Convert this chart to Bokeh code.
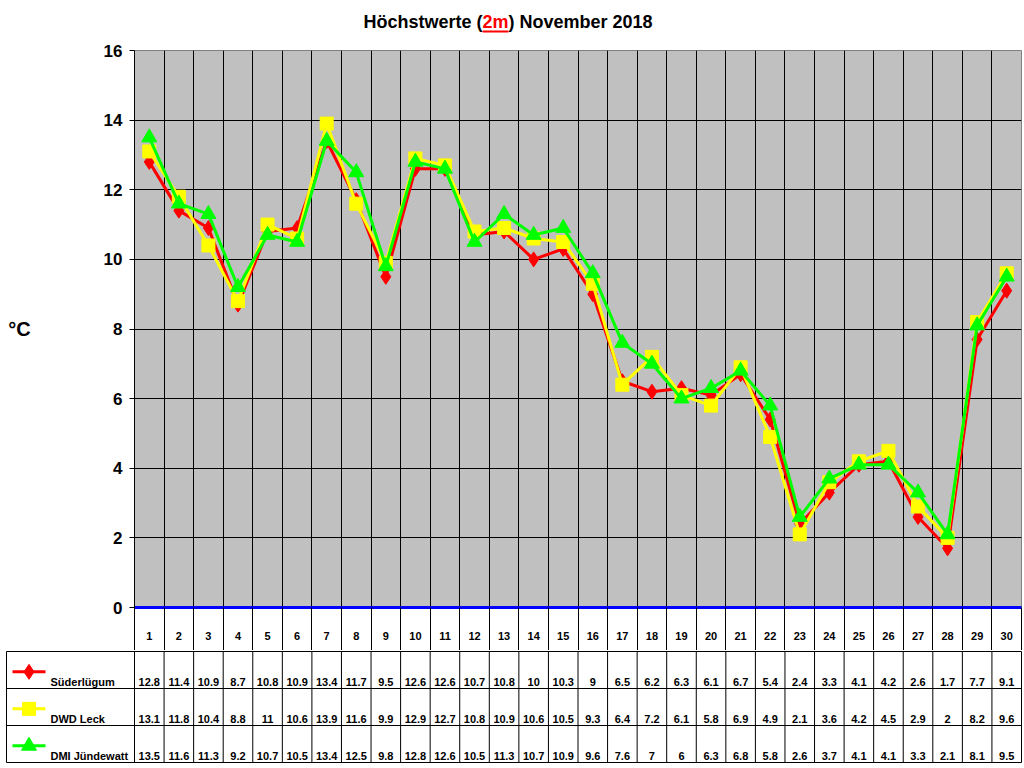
from bokeh.plotting import figure
from bokeh.models import Range1d, FixedTicker, ColumnDataSource
from bokeh.layouts import column
from bokeh.embed import file_html
from bokeh.resources import INLINE
from bokeh.core.properties import value

# ---------------- data ----------------
days = list(range(1, 31))
series_names = ["Süderlügum", "DWD Leck", "DMI Jündewatt"]
suederluegum = [12.8, 11.4, 10.9, 8.7, 10.8, 10.9, 13.4, 11.7, 9.5, 12.6, 12.6, 10.7, 10.8, 10, 10.3,
                9, 6.5, 6.2, 6.3, 6.1, 6.7, 5.4, 2.4, 3.3, 4.1, 4.2, 2.6, 1.7, 7.7, 9.1]
dwd_leck = [13.1, 11.8, 10.4, 8.8, 11, 10.6, 13.9, 11.6, 9.9, 12.9, 12.7, 10.8, 10.9, 10.6, 10.5,
            9.3, 6.4, 7.2, 6.1, 5.8, 6.9, 4.9, 2.1, 3.6, 4.2, 4.5, 2.9, 2, 8.2, 9.6]
dmi_juendewatt = [13.5, 11.6, 11.3, 9.2, 10.7, 10.5, 13.4, 12.5, 9.8, 12.8, 12.6, 10.5, 11.3, 10.7, 10.9,
                  9.6, 7.6, 7, 6, 6.3, 6.8, 5.8, 2.6, 3.7, 4.1, 4.1, 3.3, 2.1, 8.1, 9.5]
y_ticks = [0, 2, 4, 6, 8, 10, 12, 14, 16]
title_parts = ["Höchstwerte (", "2m", ") November 2018"]
title_colors = ["black", "#FF0000", "black"]
y_label = "°C"

series = [suederluegum, dwd_leck, dmi_juendewatt]
colors = ["#FF0000", "#FFFF00", "#00FF00"]
markers = ["diamond", "square", "triangle"]
msizes = [15, 13, 15]

# ---------------- layout constants ----------------
FONT = "Liberation Sans"
W = 1022
LEFT = 134
RIGHT = 1
TITLE_H = 36
TOP_BORDER = 14
FRAME_H = 557
HEADER_H = 43
TOP_H = TOP_BORDER + FRAME_H + HEADER_H
ROW_H = 37
BOT_H = 1 + 3 * ROW_H + 2
TABLE_LEFT = 6
colw = (W - LEFT - RIGHT) / 30.0
bounds = [d + 0.5 for d in range(0, 31)]


def page_x(px):
    return 0.5 + (px - LEFT) / colw


# ---------------- title strip ----------------
tfig = figure(width=W, height=TITLE_H, x_range=Range1d(0, W), y_range=Range1d(0, TITLE_H),
              output_backend="svg", toolbar_location=None,
              x_axis_location=None, y_axis_location=None, frame_align=False,
              min_border_left=0, min_border_right=0, min_border_top=0, min_border_bottom=0,
              outline_line_color=None, background_fill_color="white", border_fill_color="white")
tfig.grid.visible = False
fs = 18
w1 = 6.612 * fs
w2 = 1.445 * fs
tx = 363
ty = TITLE_H - 21
tfig.text(x=[tx, tx + w1, tx + w1 + w2], y=[ty] * 3, text=title_parts,
          text_color=title_colors, text_font=value(FONT), text_font_style="bold",
          text_font_size=f"{fs}px", text_align="left", text_baseline="middle")
tfig.quad(left=[tx + w1], right=[tx + w1 + w2], bottom=[TITLE_H - 32], top=[TITLE_H - 30],
          fill_color="#FF0000", line_color=None)

# ---------------- chart ----------------
top = figure(width=W, height=TOP_H, x_range=Range1d(0.5, 30.5), y_range=Range1d(0, 16),
             output_backend="svg", toolbar_location=None, frame_align=False,
             min_border_left=LEFT, min_border_right=RIGHT,
             min_border_top=TOP_BORDER, min_border_bottom=HEADER_H,
             background_fill_color="#C0C0C0", border_fill_color="white",
             outline_line_color="#808080")

xa = top.xaxis[0]
xa.ticker = FixedTicker(ticks=days, minor_ticks=bounds)
xa.major_tick_out = 0
xa.major_tick_in = 0
xa.minor_tick_out = HEADER_H
xa.minor_tick_in = 0
xa.minor_tick_line_color = "black"
xa.axis_line_color = "#0000FF"
xa.axis_line_width = 3
xa.major_label_standoff = -19
xa.major_label_text_font = FONT
xa.major_label_text_font_style = "bold"
xa.major_label_text_font_size = "11px"
xa.major_label_text_color = "black"

ya = top.yaxis[0]
ya.ticker = FixedTicker(ticks=y_ticks)
ya.major_tick_out = 5
ya.major_tick_in = 0
ya.minor_tick_out = 0
ya.minor_tick_in = 0
ya.axis_line_color = "black"
ya.major_tick_line_color = "black"
ya.major_label_standoff = 7
ya.major_label_text_font = FONT
ya.major_label_text_font_style = "bold"
ya.major_label_text_font_size = "17px"
ya.major_label_text_color = "black"
ya.axis_label = y_label
ya.axis_label_orientation = "horizontal"
ya.axis_label_standoff = 70
ya.axis_label_text_font = FONT
ya.axis_label_text_font_style = "bold"
ya.axis_label_text_font_size = "20px"
ya.axis_label_text_color = "black"

top.xgrid.ticker = FixedTicker(ticks=bounds)
top.xgrid.grid_line_color = "black"
top.xgrid.grid_line_width = 1
top.ygrid.ticker = FixedTicker(ticks=y_ticks)
top.ygrid.grid_line_color = "black"
top.ygrid.grid_line_width = 1

for vals, c, m, s in zip(series, colors, markers, msizes):
    src = ColumnDataSource(dict(x=days, y=vals))
    top.line("x", "y", source=src, line_color=c, line_width=3)
    top.scatter("x", "y", source=src, marker=m, size=s, fill_color=c, line_color=c)

# ---------------- data table ----------------
x0 = 0.5 - (LEFT - TABLE_LEFT) / colw
bot = figure(width=W, height=BOT_H, x_range=Range1d(x0, 30.5), y_range=Range1d(0, 3),
             output_backend="svg", toolbar_location=None, frame_align=False,
             x_axis_location=None, y_axis_location=None,
             min_border_left=TABLE_LEFT, min_border_right=RIGHT, min_border_top=1, min_border_bottom=2,
             outline_line_color="black", background_fill_color="white", border_fill_color="white")
bot.grid.visible = False

bot.segment(x0=bounds, y0=[0] * len(bounds), x1=bounds, y1=[3] * len(bounds),
            line_color="black", line_width=1)
bot.segment(x0=[x0, x0], y0=[1, 2], x1=[30.5, 30.5], y1=[1, 2], line_color="black", line_width=1)

TEXT_DY = 7.0 / ROW_H
tx_, ty_, tt_ = [], [], []
for i, vals in enumerate(series):
    row_bottom = 2 - i
    for d, v in zip(days, vals):
        tx_.append(d)
        ty_.append(row_bottom + TEXT_DY)
        tt_.append(f"{v:g}")
bot.text(x="x", y="y", text="t", source=ColumnDataSource(dict(x=tx_, y=ty_, t=tt_)),
         text_font=value(FONT), text_font_style="bold", text_font_size="11px",
         text_color="black", text_align="center", text_baseline="middle")

lx0, lx1, lxm, lxt = page_x(12), page_x(45), page_x(28.5), page_x(50)
for i, (name, c, m, s) in enumerate(zip(series_names, colors, markers, msizes)):
    row_top = 3 - i
    yl = row_top - 0.55
    bot.line([lx0, lx1], [yl, yl], line_color=c, line_width=3)
    bot.scatter([lxm], [yl], marker=m, size=s, fill_color=c, line_color=c)
    bot.text([lxt], [row_top - 1 + TEXT_DY], text=[name], text_font=value(FONT),
             text_font_style="bold", text_font_size="11px", text_color="black",
             text_align="left", text_baseline="middle")

layout = column(tfig, top, bot, spacing=0)
open("out.html", "w").write(file_html(layout, INLINE))
